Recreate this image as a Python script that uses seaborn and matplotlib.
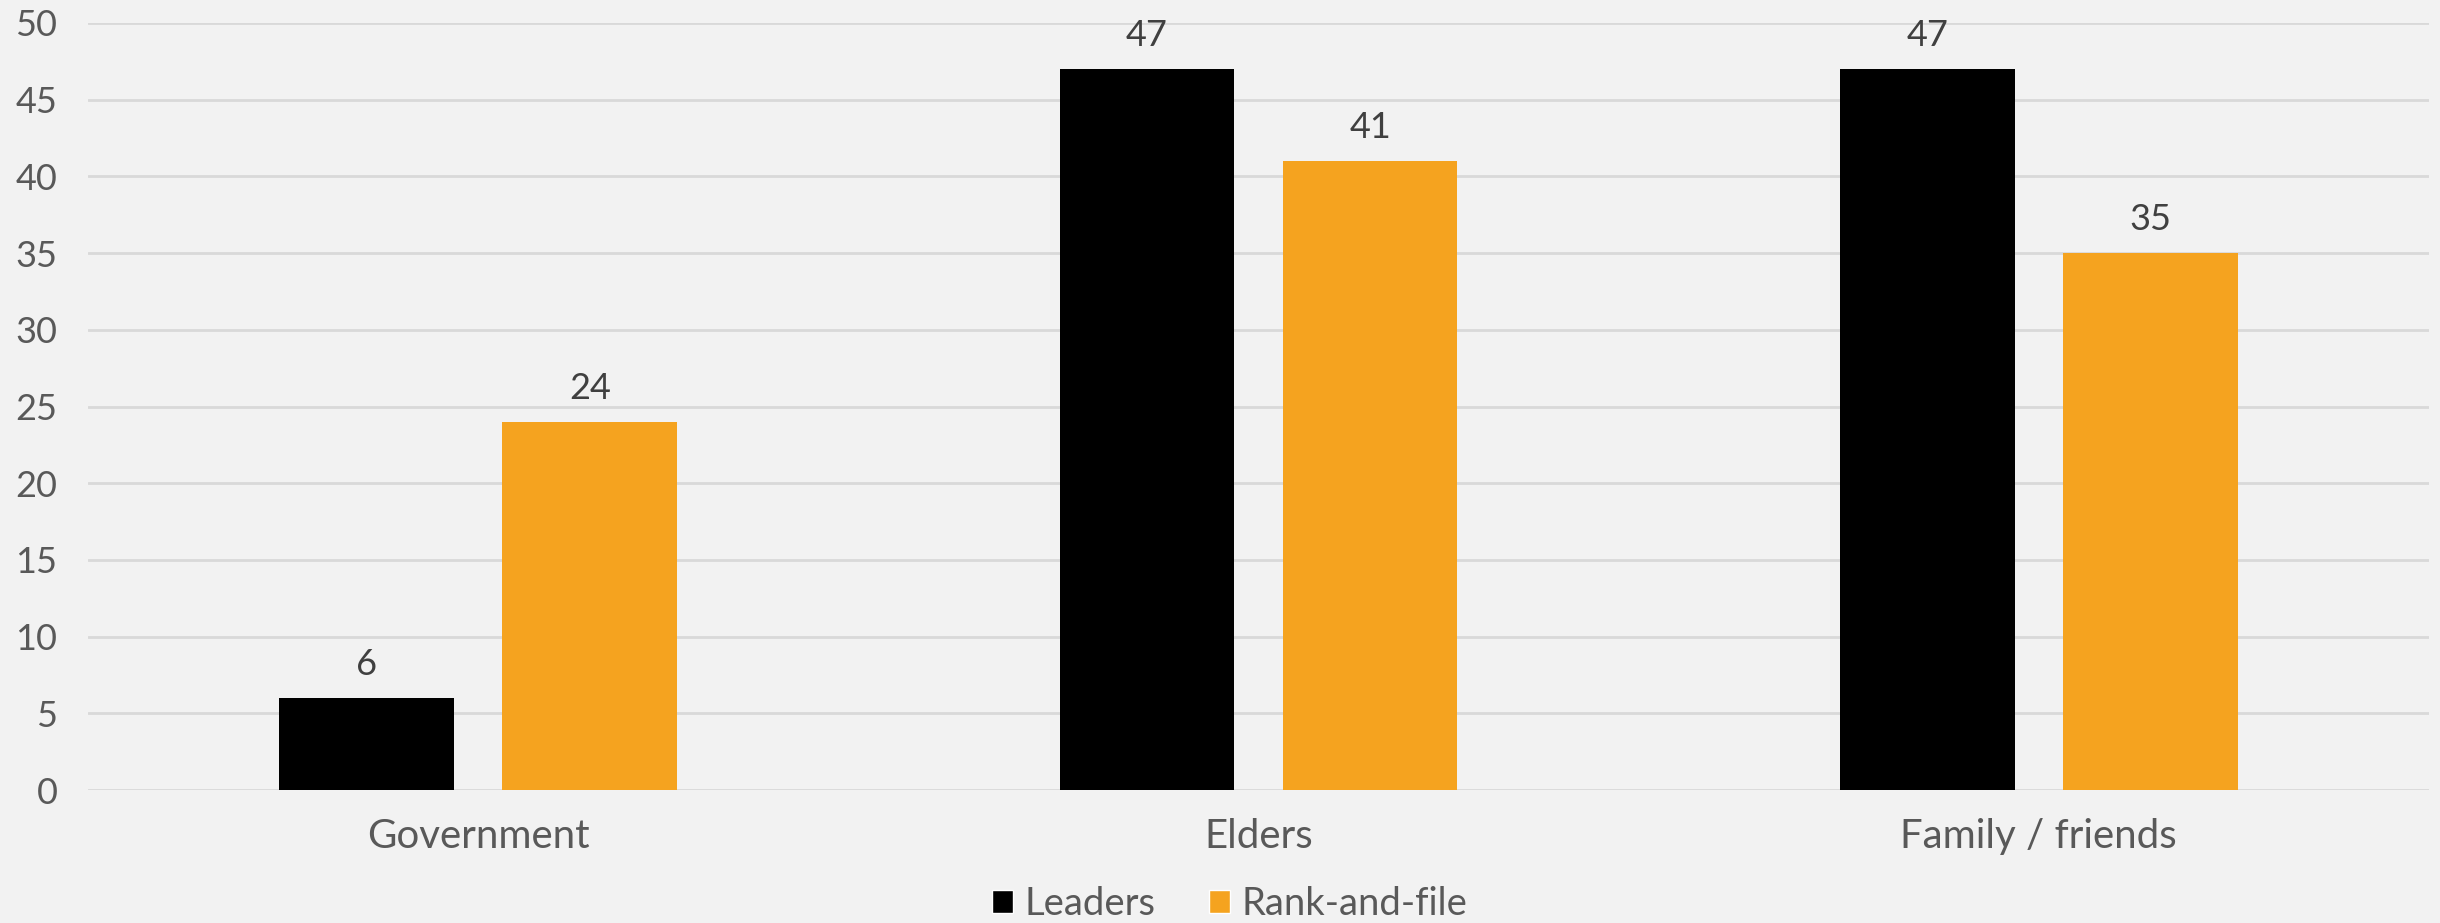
import matplotlib
matplotlib.use("Agg")
import matplotlib.pyplot as plt
import seaborn as sns
import pandas as pd

categories = ["Government", "Elders", "Family / friends"]
leaders = [6, 47, 47]
rank_and_file = [24, 41, 35]
series_names = ["Leaders", "Rank-and-file"]
y_ticks = [0, 5, 10, 15, 20, 25, 30, 35, 40, 45, 50]

df = pd.DataFrame({
    "category": categories * 2,
    "value": leaders + rank_and_file,
    "series": [series_names[0]] * 3 + [series_names[1]] * 3,
})

sns.set_style("white")
plt.rcParams["font.family"] = ["Lato", "DejaVu Sans"]

BG = "#f2f2f2"
TXT = "#595959"
fig = plt.figure(figsize=(24.4, 9.23), dpi=100, facecolor=BG)
ax = fig.add_axes([88 / 2440, 1 - 790 / 923, (2429 - 88) / 2440, (790 - 23) / 923])
ax.set_facecolor(BG)

sns.barplot(data=df, x="category", y="value", hue="series",
            palette=["#000000", "#f5a31f"], width=0.572, gap=0.217,
            order=categories, hue_order=series_names, ax=ax, legend=True,
            errorbar=None, saturation=1)

for c in ax.containers:
    for p in c:
        p.set_linewidth(0)
    ax.bar_label(c, labels=[f"{v:g}" for v in c.datavalues], padding=12,
                 fontsize=26, color="#404040")

ax.set_xlim(-0.5, 2.5)
ax.set_ylim(0, 50)
ax.set_yticks(y_ticks)
ax.grid(axis="y", color="#d9d9d9", linewidth=2)
ax.set_axisbelow(True)
for s in ax.spines.values():
    s.set_visible(False)
ax.tick_params(axis="y", length=0, labelsize=26, labelcolor=TXT, pad=22)
ax.tick_params(axis="x", length=0, labelsize=29, labelcolor=TXT, pad=20)
ax.set_xlabel("")
ax.set_ylabel("")

handles, labels = ax.get_legend_handles_labels()
ax.legend_.remove()
fig.legend(handles, labels, loc="center", bbox_to_anchor=(0.504, 0.021),
           ncol=2, frameon=False, fontsize=27.5, labelcolor=TXT,
           handlelength=0.55, handleheight=0.55, handletextpad=0.3,
           columnspacing=1.4)

fig.savefig("out.png", dpi=100, facecolor=BG)
